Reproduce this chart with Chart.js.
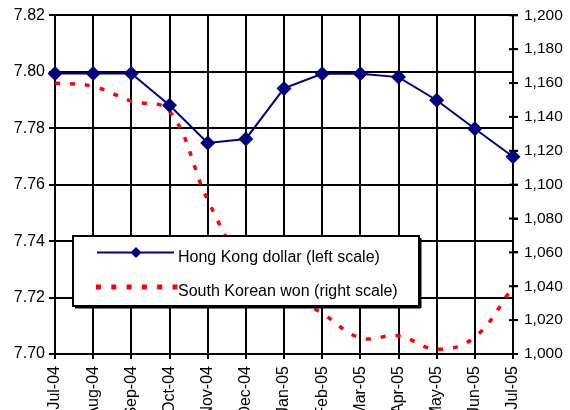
<!DOCTYPE html>
<html>
<head>
<meta charset="utf-8">
<script src="https://cdn.jsdelivr.net/npm/chart.js@4/dist/chart.umd.min.js"></script>
<style>
  html, body { margin: 0; padding: 0; background: #fff; overflow: hidden; }
  #wrap { width: 570px; height: 410px; position: relative; }
</style>
</head>
<body>
<div id="wrap"><canvas id="c" width="570" height="410"></canvas></div>
<script>
// Monthly exchange rates against the US dollar
const months = ['Jul-04','Aug-04','Sep-04','Oct-04','Nov-04','Dec-04','Jan-05','Feb-05','Mar-05','Apr-05','May-05','Jun-05','Jul-05'];
const hkd = [7.7994, 7.7994, 7.7994, 7.7881, 7.7748, 7.7762, 7.7941, 7.7993, 7.7993, 7.7981, 7.7899, 7.7798, 7.7699];
const krw = [1160.0, 1158.0, 1149.3, 1143.4, 1091.0, 1052.0, 1037.0, 1024.0, 1009.5, 1010.7, 1002.8, 1010.0, 1039.5];
const seriesNames = ['Hong Kong dollar (left scale)', 'South Korean won (right scale)'];

const FONT = 'Liberation Sans, Arial, sans-serif';
const NAVY = '#000080';
const RED = '#ff0000';

// Tick marks that cross the right-hand axis line
const rightTicks = {
  id: 'rightTicks',
  afterDatasetsDraw(chart) {
    const s = chart.scales.yR, ctx = chart.ctx;
    ctx.save();
    ctx.strokeStyle = '#000';
    ctx.lineWidth = 2;
    s.ticks.forEach(t => {
      const y = s.getPixelForValue(t.value);
      ctx.beginPath();
      ctx.moveTo(s.left - 4, y);
      ctx.lineTo(s.left + 5, y);
      ctx.stroke();
    });
    ctx.restore();
  }
};

// Boxed legend placed inside the plot
const boxLegend = {
  id: 'boxLegend',
  afterDraw(chart) {
    const ctx = chart.ctx;
    const x0 = 73, y0 = 236, w = 346, h = 70;
    ctx.save();
    ctx.fillStyle = '#fff';
    ctx.fillRect(x0, y0, w, h);
    ctx.strokeStyle = '#000';
    ctx.lineWidth = 2;
    ctx.strokeRect(x0, y0, w, h);
    // shadow edge
    ctx.fillStyle = '#000';
    ctx.fillRect(x0 + 2, y0 + h + 1, w, 1.5);
    ctx.fillRect(x0 + w + 1, y0 + 2, 1.5, h);

    // Hong Kong dollar sample
    const yA = 252.5, yB = 287;
    ctx.strokeStyle = NAVY;
    ctx.lineWidth = 2;
    ctx.beginPath();
    ctx.moveTo(97, yA); ctx.lineTo(174, yA);
    ctx.stroke();
    ctx.fillStyle = NAVY;
    ctx.beginPath();
    ctx.moveTo(136, yA - 5.5); ctx.lineTo(141.5, yA); ctx.lineTo(136, yA + 5.5); ctx.lineTo(130.5, yA);
    ctx.closePath(); ctx.fill();

    // South Korean won sample
    ctx.fillStyle = RED;
    for (let x = 96; x < 174; x += 15.3) {
      ctx.fillRect(x, yB - 2.5, 5, 5);
    }

    ctx.fillStyle = '#000';
    ctx.font = '16px ' + FONT;
    ctx.textBaseline = 'middle';
    ctx.textAlign = 'left';
    ctx.fillText(seriesNames[0], 178, yA + 5);
    ctx.fillText(seriesNames[1], 178, yB + 5);
    ctx.restore();
  }
};

new Chart(document.getElementById('c'), {
  type: 'line',
  data: {
    labels: months,
    datasets: [
      {
        label: seriesNames[0],
        data: hkd,
        yAxisID: 'yL',
        borderColor: NAVY,
        backgroundColor: NAVY,
        borderWidth: 2,
        pointStyle: 'rectRot',
        pointRadius: 7.5,
        pointBorderWidth: 0,
        pointBackgroundColor: NAVY,
        tension: 0
      },
      {
        label: seriesNames[1],
        data: krw,
        yAxisID: 'yR',
        borderColor: RED,
        borderWidth: 3.5,
        borderDash: [5, 10],
        borderCapStyle: 'butt',
        pointRadius: 0,
        tension: 0.4,
        cubicInterpolationMode: 'default'
      }
    ]
  },
  options: {
    responsive: false,
    animation: false,
    devicePixelRatio: 1,
    layout: { padding: { top: 15, left: 0, right: 0, bottom: 0 } },
    plugins: { legend: { display: false }, tooltip: { enabled: false } },
    scales: {
      x: {
        type: 'category',
        offset: false,
        afterFit(s) { s.height = 56; },
        grid: { color: '#000', lineWidth: 2, tickLength: 5, drawOnChartArea: true },
        border: { color: '#000', width: 2 },
        ticks: {
          color: '#000', font: { family: FONT, size: 16 },
          minRotation: 90, maxRotation: 90, autoSkip: false, padding: 7
        }
      },
      yL: {
        position: 'left',
        min: 7.70, max: 7.82,
        afterFit(s) { s.width = 55; },
        grid: { color: '#000', lineWidth: 2, tickLength: 6 },
        border: { color: '#000', width: 2 },
        ticks: {
          stepSize: 0.02, color: '#000', padding: 4,
          font: { family: FONT, size: 16 },
          callback: v => v.toFixed(2)
        }
      },
      yR: {
        position: 'right',
        min: 1000, max: 1200,
        afterFit(s) { s.width = 57; },
        grid: { drawOnChartArea: false, drawTicks: true, tickLength: 5, color: '#000', lineWidth: 2 },
        border: { color: '#000', width: 2 },
        ticks: {
          stepSize: 20, color: '#000', padding: 6,
          font: { family: FONT, size: 15.5 },
          callback: v => v.toLocaleString('en-US')
        }
      }
    }
  },
  plugins: [rightTicks, boxLegend]
});
</script>
</body>
</html>
